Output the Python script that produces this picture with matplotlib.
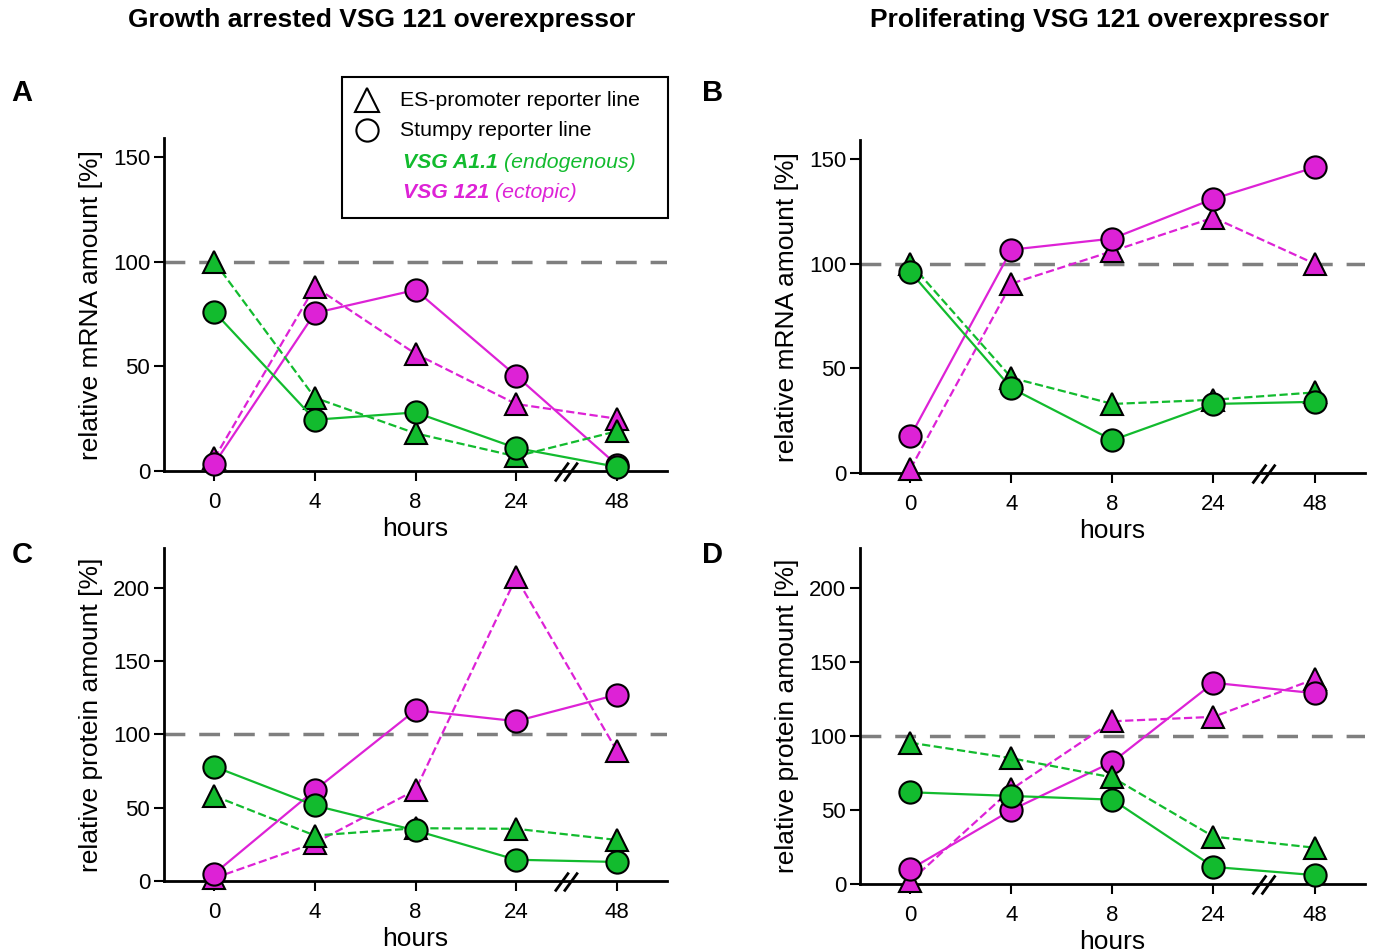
"""Four-panel VSG time course (mRNA / protein), matplotlib only."""
import matplotlib

matplotlib.use("Agg")
import matplotlib.pyplot as plt
from matplotlib import font_manager
from matplotlib.lines import Line2D
from matplotlib.patches import Rectangle
import matplotlib.transforms as mtransforms

plt.rcParams["font.family"] = ["Liberation Sans", "DejaVu Sans"]

try:
    font_manager.findfont("Liberation Sans Narrow", fallback_to_default=False)
    TICK_FONT, TICK_SIZE = "Liberation Sans Narrow", 19
except ValueError:
    TICK_FONT, TICK_SIZE = "Liberation Sans", 16

GREEN = "#12bb2e"
MAGENTA = "#dd22d6"

hours = ["0", "4", "8", "24", "48"]

# A: growth arrested, mRNA
a_green_tri = [100, 35, 18, 7, 19]
a_green_circ = [76, 24.5, 28, 11, 2]
a_mag_tri = [6, 88, 56, 32, 25]
a_mag_circ = [3.5, 75.5, 86.5, 45.5, 3]

# B: proliferating, mRNA
b_green_tri = [100, 45.5, 33, 35, 38.5]
b_green_circ = [96, 40.5, 15.7, 33, 34]
b_mag_tri = [2, 90.5, 106, 122, 100]
b_mag_circ = [17.6, 106.7, 112, 131, 146]

# C: growth arrested, protein
c_green_tri = [58, 31, 36, 35.6, 28]
c_green_circ = [78, 51.5, 34.5, 14.5, 13]
c_mag_tri = [2, 26, 62, 207, 89]
c_mag_circ = [5, 62, 116.5, 109, 127]

# D: proliferating, protein
d_green_tri = [95.5, 85, 72, 32, 24.5]
d_green_circ = [62, 59.5, 57, 11.5, 6]
d_mag_tri = [2, 64, 110, 113, 138.5]
d_mag_circ = [10, 50, 82.5, 136, 129]

fig = plt.figure(figsize=(13.77, 9.51), dpi=100)


def panel(rect, series, ylabel, yticks, ymax):
    ax = fig.add_axes(rect)
    x = list(range(len(hours)))
    mag_tri, mag_circ, green_tri, green_circ = series
    ax.axhline(100, color="#7f7f7f", lw=2.5, dashes=(6, 4), zorder=1)
    ms = 16
    ax.plot(x, mag_tri, "--", color=MAGENTA, lw=1.6, marker="^", ms=ms, mfc=MAGENTA,
            mec="black", mew=1.5, zorder=3, clip_on=False)
    ax.plot(x, mag_circ, "-", color=MAGENTA, lw=1.6, marker="o", ms=ms, mfc=MAGENTA,
            mec="black", mew=1.5, zorder=4, clip_on=False)
    ax.plot(x, green_tri, "--", color=GREEN, lw=1.6, marker="^", ms=ms, mfc=GREEN,
            mec="black", mew=1.5, zorder=5, clip_on=False)
    ax.plot(x, green_circ, "-", color=GREEN, lw=1.6, marker="o", ms=ms, mfc=GREEN,
            mec="black", mew=1.5, zorder=6, clip_on=False)
    ax.set_xlim(-0.5, 4.5)
    ax.set_ylim(0, ymax)
    ax.set_xticks(x)
    ax.set_xticklabels(hours)
    ax.set_yticks(yticks)
    for s in ("top", "right"):
        ax.spines[s].set_visible(False)
    for s in ("left", "bottom"):
        ax.spines[s].set_linewidth(2)
        ax.spines[s].set_zorder(2)
    ax.tick_params(direction="out", length=7, width=1.5)
    ax.tick_params(axis="x", pad=8)
    ax.tick_params(axis="y", pad=3)
    for lab in ax.get_xticklabels() + ax.get_yticklabels():
        lab.set_family(TICK_FONT)
        lab.set_fontsize(TICK_SIZE)
    ax.set_ylabel(ylabel, fontsize=19, labelpad=7)
    ax.set_xlabel("hours", fontsize=19, labelpad=3)
    # axis break marks
    tr = mtransforms.blended_transform_factory(ax.transData, ax.transAxes)
    for dx in (-0.045, 0.045):
        ax.add_line(Line2D([3.5 + dx - 0.06, 3.5 + dx + 0.06], [-0.028, 0.022],
                           transform=tr, color="black", lw=2, clip_on=False, zorder=7))
    return ax


wA = 0.3653
hA = 0.350
panel([0.1191, 0.5047, wA, hA], (a_mag_tri, a_mag_circ, a_green_tri, a_green_circ),
      "relative mRNA amount [%]", [0, 50, 100, 150], 159)
panel([0.6245, 0.5026, 0.3668, hA], (b_mag_tri, b_mag_circ, b_green_tri, b_green_circ),
      "relative mRNA amount [%]", [0, 50, 100, 150], 159)
panel([0.1191, 0.0736, wA, hA], (c_mag_tri, c_mag_circ, c_green_tri, c_green_circ),
      "relative protein amount [%]", [0, 50, 100, 150, 200], 227)
panel([0.6245, 0.0705, 0.3668, 0.353], (d_mag_tri, d_mag_circ, d_green_tri, d_green_circ),
      "relative protein amount [%]", [0, 50, 100, 150, 200], 227)


def fx(px):
    return px / 1377


def fy(py):
    return 1 - py / 951


# titles and panel letters
fig.text(fx(382), fy(20), "Growth arrested VSG 121 overexpressor",
         ha="center", va="center", fontsize=19, fontweight="bold")
fig.text(fx(1100), fy(20), "Proliferating VSG 121 overexpressor",
         ha="center", va="center", fontsize=19, fontweight="bold")
for letter, px, py in (("A", 22, 93), ("B", 713, 93), ("C", 22, 555), ("D", 713, 555)):
    fig.text(fx(px), fy(py), letter, ha="center", va="center",
             fontsize=21, fontweight="bold")

# legend box (manual, figure pixel coords)
fig.patches.append(Rectangle((fx(342), fy(218)), fx(668) - fx(342), fy(77) - fy(218),
                             transform=fig.transFigure, fill=False, ec="black", lw=1.5))
fig.lines.append(Line2D([fx(367)], [fy(100)], marker="^", ms=17, mfc="none", mec="black",
                        mew=1.5, transform=fig.transFigure))
fig.lines.append(Line2D([fx(367)], [fy(130)], marker="o", ms=16, mfc="none", mec="black",
                        mew=1.5, transform=fig.transFigure))
LEG = 15.3
fig.text(fx(400), fy(100), "ES-promoter reporter line", va="center", fontsize=LEG)
fig.text(fx(400), fy(130), "Stumpy reporter line", va="center", fontsize=LEG)

renderer = fig.canvas.get_renderer()
for name, note, color, py in (("VSG A1.1", "(endogenous)", GREEN, 163),
                              ("VSG 121", "(ectopic)", MAGENTA, 193)):
    t = fig.text(fx(403), fy(py), name, va="center", fontsize=LEG, color=color,
                 fontweight="bold", fontstyle="italic")
    x1 = t.get_window_extent(renderer).x1
    fig.text((x1 + 6) / fig.bbox.width, fy(py), note, va="center", fontsize=LEG,
             color=color, fontstyle="italic")

fig.savefig("out.png", dpi=100)
